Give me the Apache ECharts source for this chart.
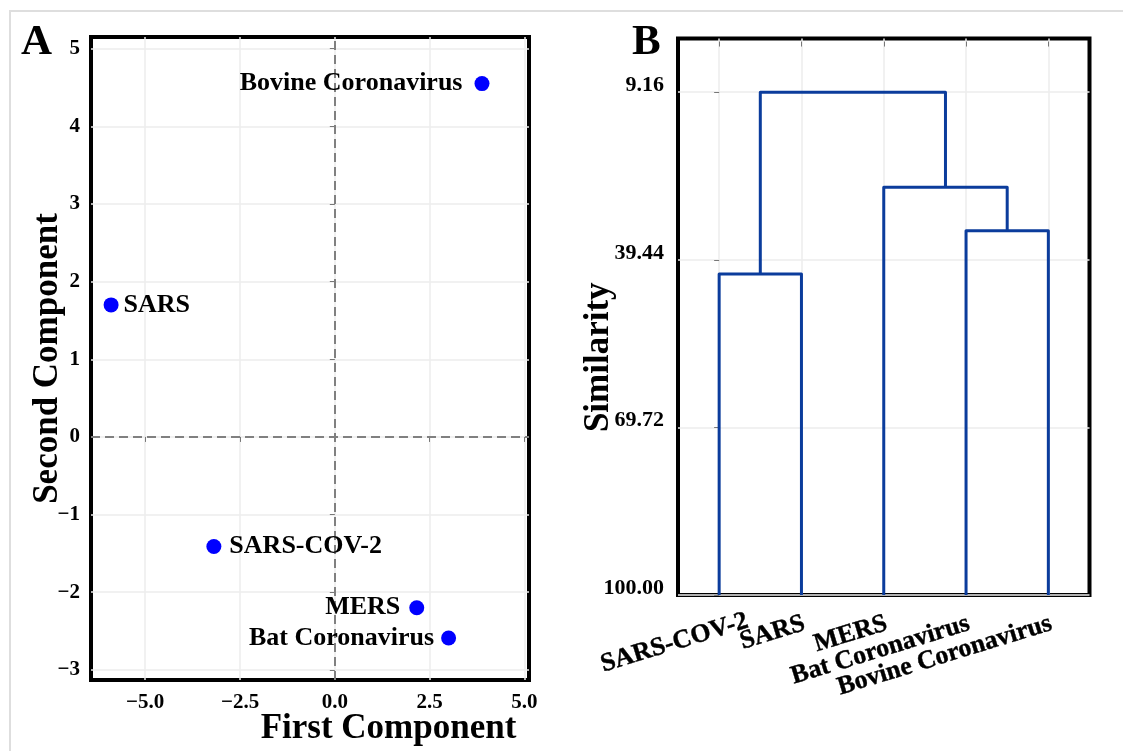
<!DOCTYPE html>
<html><head><meta charset="utf-8">
<script src="https://cdn.jsdelivr.net/npm/echarts@6/dist/echarts.min.js"></script>
<style>html,body{margin:0;padding:0;background:#fff}#c{width:1123px;height:751px}</style>
</head><body><div id="c"></div>
<script>
// ---- Panel A: PCA scores ----
const pcaNames = ['Bovine Coronavirus', 'SARS', 'SARS-COV-2', 'MERS', 'Bat Coronavirus'];
const pcaFirst = [3.88, -5.90, -3.19, 2.16, 3.00];
const pcaSecond = [4.55, 1.70, -1.41, -2.20, -2.59];
const pcaXTicks = [-5, -2.5, 0, 2.5, 5];
const pcaYTicks = [-3, -2, -1, 0, 1, 2, 3, 4, 5];

// ---- Panel B: dendrogram ----
const leafNames = ['SARS-COV-2', 'SARS', 'MERS', 'Bat Coronavirus', 'Bovine Coronavirus'];
// nodes 0-4 are leaves; merge k creates node 5+k
const mergeLeft = [3, 0, 2, 6];
const mergeRight = [4, 1, 5, 7];
const mergeSimilarity = [34.17, 41.99, 26.33, 9.16];
const similarityTicks = [9.16, 39.44, 69.72, 100.00];

const FONT = '"Liberation Serif", "Times New Roman", serif';
const minus = v => (v < 0 ? '\u2212' : '') + Math.abs(v);

// label placement styles for panel A points
const pcaLabelStyle = [
  {position: 'left', distance: 12},
  {position: 'right', distance: 5},
  {position: 'right', distance: 8},
  {position: 'left', distance: 9},
  {position: 'left', distance: 7}
];

// build dendrogram segments
const nodeX = leafNames.map((_, i) => i);
const nodeH = leafNames.map(() => 100);
const dendroSeries = [];
for (let k = 0; k < mergeLeft.length; k++) {
  const l = mergeLeft[k], r = mergeRight[k], h = mergeSimilarity[k];
  nodeX.push((nodeX[l] + nodeX[r]) / 2);
  nodeH.push(h);
  dendroSeries.push({
    type: 'line', xAxisIndex: 1, yAxisIndex: 1, symbol: 'none', silent: true,
    animation: false, clip: false,
    lineStyle: {color: '#0b3c9c', width: 3, join: 'round'},
    data: [[nodeX[l], nodeH[l]], [nodeX[l], h], [nodeX[r], h], [nodeX[r], nodeH[r]]]
  });
}

const tickLabel = {fontFamily: FONT, fontWeight: 'bold', color: '#000'};
const grayGrid = {show: true, lineStyle: {color: '#ececec', width: 1.5}};
const smallTick = (vals) => ({show: true, customValues: vals, length: 5, lineStyle: {color: '#777', width: 1}});

const chart = echarts.init(document.getElementById('c'), null, {renderer: 'canvas'});
chart.setOption({
  animation: false,
  backgroundColor: '#fff',
  grid: [
    {left: 91, top: 37, width: 438, height: 643, show: true, borderColor: '#000', borderWidth: 4, backgroundColor: 'transparent'},
    {left: 678, top: 38.5, width: 411.5, height: 556.5, show: true, borderColor: '#000', borderWidth: 4, backgroundColor: 'transparent'}
  ],
  xAxis: [
    {
      type: 'value', gridIndex: 0, min: -6.43, max: 5.12,
      axisLine: {show: false}, axisTick: smallTick(pcaXTicks),
      axisLabel: Object.assign({customValues: pcaXTicks, fontSize: 21, margin: 12,
        formatter: v => (v < 0 ? '\u2212' : '') + Math.abs(v).toFixed(1)}, tickLabel),
      splitLine: grayGrid,
      name: 'First Component', nameLocation: 'middle', nameGap: 31, nameMoveOverlap: false,
      nameTextStyle: {fontFamily: FONT, fontWeight: 'bold', fontSize: 35, color: '#000', padding: [0, 0, 0, 157]}
    },
    {
      type: 'value', gridIndex: 1, min: -0.5, max: 4.5,
      axisLine: {show: false}, axisTick: smallTick(leafNames.map((_, i) => i)),
      axisLabel: {show: false, customValues: leafNames.map((_, i) => i)},
      splitLine: grayGrid
    }
  ],
  yAxis: [
    {
      type: 'value', gridIndex: 0, min: -3.13, max: 5.15,
      axisLine: {show: false}, axisTick: smallTick(pcaYTicks),
      axisLabel: Object.assign({customValues: pcaYTicks, fontSize: 21, margin: 11, formatter: v => minus(v)}, tickLabel),
      splitLine: grayGrid,
      name: 'Second Component', nameLocation: 'middle', nameGap: 26, nameMoveOverlap: false,
      nameTextStyle: {fontFamily: FONT, fontWeight: 'bold', fontSize: 35, color: '#000'}
    },
    {
      type: 'value', gridIndex: 1, inverse: true, min: -0.55, max: 100,
      axisLine: {show: false}, axisTick: smallTick(similarityTicks),
      axisLabel: Object.assign({customValues: similarityTicks, fontSize: 22, margin: 14,
        verticalAlign: 'bottom', lineHeight: 14, formatter: v => v.toFixed(2)}, tickLabel),
      splitLine: grayGrid,
      name: 'Similarity', nameLocation: 'middle', nameGap: 62, nameMoveOverlap: false,
      nameTextStyle: {fontFamily: FONT, fontWeight: 'bold', fontSize: 35, color: '#000', padding: [0, 81, 0, 0]}
    }
  ],
  graphic: [
    {type: 'rect', silent: true, z: -10, shape: {x: 10, y: 11, width: 1300, height: 900},
      style: {fill: 'none', stroke: '#dedede', lineWidth: 2}},
    {type: 'text', x: 21, y: 21, silent: true,
      style: {text: 'A', font: 'bold 43px ' + FONT, fill: '#000', verticalAlign: 'top'}},
    {type: 'text', x: 632, y: 21, silent: true,
      style: {text: 'B', font: 'bold 43px ' + FONT, fill: '#000', verticalAlign: 'top'}}
  ],
  series: [
    {
      type: 'scatter', xAxisIndex: 0, yAxisIndex: 0, symbolSize: 15, silent: true,
      itemStyle: {color: '#0000ff', opacity: 1},
      label: {show: true, formatter: '{b}', fontFamily: FONT, fontWeight: 'bold', fontSize: 26, color: '#000'},
      data: pcaNames.map((n, i) => ({name: n, value: [pcaFirst[i], pcaSecond[i]], label: pcaLabelStyle[i]})),
      markLine: {
        silent: true, symbol: 'none', animation: false,
        label: {show: false},
        lineStyle: {type: [9, 5], color: '#808080', width: 2},
        data: [{xAxis: 0}, {yAxis: 0}]
      },
      z: 5
    },
    ...dendroSeries,
    {
      type: 'scatter', xAxisIndex: 1, yAxisIndex: 1, symbolSize: 0, silent: true, clip: false,
      itemStyle: {color: '#000', opacity: 1},
      label: {show: true, formatter: '{b}', position: 'bottom', distance: 29, rotate: 17, opacity: 1,
        align: 'right', verticalAlign: 'middle', fontFamily: FONT, fontWeight: 'bold', fontSize: 26,
        color: '#000', textBorderColor: '#000', textBorderWidth: 0.4},
      data: leafNames.map((n, i) => ({name: n, value: [i, 100],
        label: {offset: i === 0 ? [28, 5] : [3, 0]}}))
    }
  ]
});
</script></body></html>
